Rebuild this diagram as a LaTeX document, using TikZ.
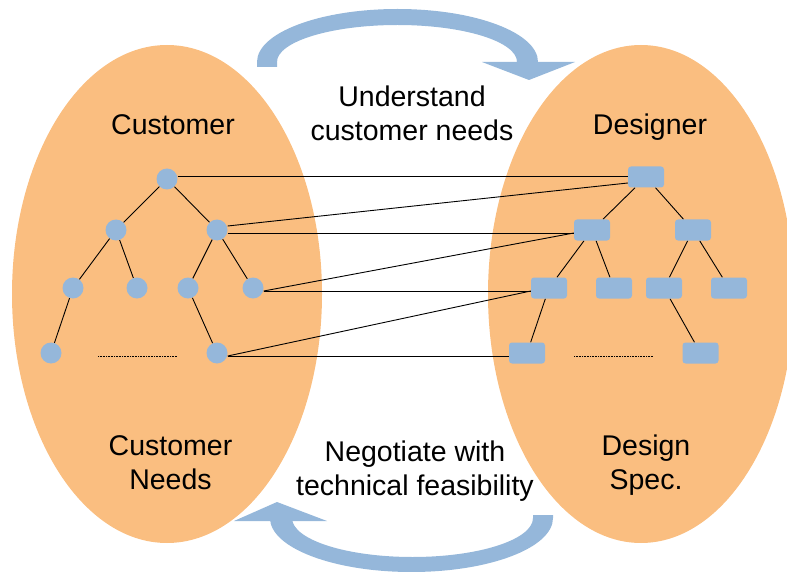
\documentclass[tikz,border=0pt]{standalone}
\usepackage{fontspec}
\setmainfont{Liberation Sans}
\usetikzlibrary{calc}
\definecolor{orangefill}{RGB}{250,190,128}
\definecolor{bluefill}{RGB}{149,183,218}
\pgfdeclarelayer{bg}
\pgfdeclarelayer{lines}
\pgfsetlayers{bg,lines,main}
\begin{document}
\begin{tikzpicture}[x=1pt,y=-1pt,
 circ/.style={circle, fill=bluefill, minimum size=21pt, inner sep=0pt},
 rbox/.style={rectangle, rounded corners=3pt, fill=bluefill, minimum width=36pt, minimum height=21pt, inner sep=0pt},
 link/.style={black, line width=0.9pt},
 dotline/.style={black, line width=0.6pt, dash pattern=on 0.8pt off 0.8pt},
 lbl/.style={font=\fontsize{28.5}{34}\selectfont, align=center, inner sep=0pt},
 band/.style={fill=bluefill}
]
\useasboundingbox (0,0) rectangle (787,572);

% customer tree
\node[circ] (L0) at (167,179) {};
\node[circ] (L1a) at (116,230) {};
\node[circ] (L1b) at (217,230) {};
\node[circ] (L2a) at (73,288) {};
\node[circ] (L2b) at (137,288) {};
\node[circ] (L2c) at (188,288) {};
\node[circ] (L2d) at (253,288) {};
\node[circ] (L3a) at (51,353) {};
\node[circ] (L3b) at (217,353) {};

% designer tree
\node[rbox] (R0) at (646,177) {};
\node[rbox] (R1a) at (592,230) {};
\node[rbox] (R1b) at (693,230) {};
\node[rbox] (R2a) at (549,288) {};
\node[rbox] (R2b) at (614,288) {};
\node[rbox] (R2c) at (664,288) {};
\node[rbox] (R2d) at (729,288) {};
\node[rbox] (R3a) at (527,353) {};
\node[rbox] (R3b) at (700.5,353) {};

\coordinate (dLa) at (98,356);
\coordinate (dLb) at (177,356);
\coordinate (dRa) at (574,356.5);
\coordinate (dRb) at (653,356.5);

% texts (multi-line nodes: base = baseline of last line)
\node[lbl, anchor=base] (custT) at (173,134.5) {Customer};
\node[lbl, anchor=base] (desT) at (650,135) {Designer};
\node[lbl, anchor=base] (und) at (412,141) {Understand\\customer needs};
\node[lbl, anchor=base] (custN) at (170.5,489) {Customer\\Needs};
\node[lbl, anchor=base] (neg) at (415,495) {Negotiate with\\technical feasibility};
\node[lbl, anchor=base] (spec) at (646,489) {Design\\Spec.};

\begin{pgfonlayer}{bg}
\fill[orangefill] (167,294) ellipse [x radius=155pt, y radius=249pt];
\fill[orangefill] (641,294) ellipse [x radius=153pt, y radius=249pt];
% top curved arrow
\fill[bluefill] (257,67) -- (257,62) .. controls (257,32.7) and (319.9,9) .. (397.5,9)
  .. controls (475.1,9) and (538,32.7) .. (538,62) -- (575,62) -- (529,80) -- (482,62) -- (517,62)
  .. controls (517,41.6) and (463.8,25) .. (397.5,25) .. controls (331.2,25) and (277,41.6) .. (277,62)
  -- (277,67) -- cycle;
% bottom curved arrow
\fill[bluefill] (553,515) -- (553,518) .. controls (553,547.8) and (489.6,572) .. (411.5,572)
  .. controls (333.4,572) and (270,547.8) .. (270,518) -- (270,521) -- (234,521) -- (277,502)
  -- (327,521) -- (292,521) -- (292,518) .. controls (292,539.5) and (345.9,557) .. (412.5,557)
  .. controls (479.1,557) and (533,539.5) .. (533,518) -- (533,515) -- cycle;
\end{pgfonlayer}

\begin{pgfonlayer}{lines}
\draw[link] (L0) -- (L1a);
\draw[link] (L0) -- (L1b);
\draw[link] (L1a) -- (L2a);
\draw[link] (L1a) -- (L2b);
\draw[link] (L1b) -- (L2c);
\draw[link] (L1b) -- (L2d);
\draw[link] (L2a) -- (L3a);
\draw[link] (L2c) -- (L3b);
\draw[link] (R0) -- (R1a);
\draw[link] (R0) -- (R1b);
\draw[link] (R1a) -- (R2a);
\draw[link] (R1a) -- (R2b);
\draw[link] (R1b) -- (R2c);
\draw[link] (R1b) -- (R2d);
\draw[link] (R2a) -- (R3a);
\draw[link] (R2c) -- (R3b);
\draw[dotline] (dLa) -- (dLb);
\draw[dotline] (dRa) -- (dRb);
% cross links
\draw[link] ($(L0.east)+(0,-3)$) -- ($(R0.west)+(0,-1)$);
\draw[link] ($(L1b.east)+(0,-4)$) -- ($(R0.west)+(0,6)$);
\draw[link] ($(L1b.east)+(0,3)$) -- ($(R1a.west)+(0,3)$);
\draw[link] ($(L2d.east)+(0,3)$) -- ($(R1a.west)+(0,3)$);
\draw[link] ($(L2d.east)+(0,3)$) -- ($(R2a.west)+(0,3)$);
\draw[link] ($(L3b.east)+(0,3)$) -- ($(R2a.west)+(0,3)$);
\draw[link] ($(L3b.east)+(0,3)$) -- ($(R3a.west)+(0,3)$);
\end{pgfonlayer}
\end{tikzpicture}
\end{document}
